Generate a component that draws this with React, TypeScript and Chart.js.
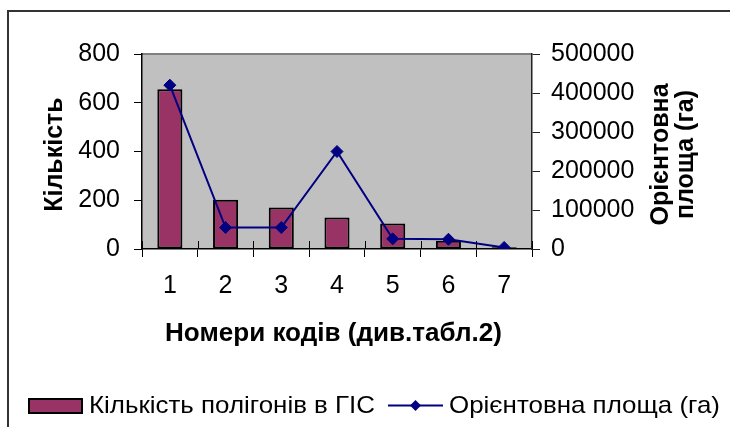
import React, { useEffect, useRef } from "react";
import { Chart, registerables } from "chart.js";

Chart.register(...registerables);

const categories = ["1", "2", "3", "4", "5", "6", "7"];
const polygonCounts = [655, 202, 170, 129, 105, 34, 7];
const approxArea = [420000, 55000, 55000, 250000, 26000, 25000, 4000];
const leftTicks = [0, 200, 400, 600, 800];
const rightTicks = [0, 100000, 200000, 300000, 400000, 500000];

const barLabel = "Кількість полігонів в ГІС";
const lineLabel = "Орієнтовна площа (га)";
const xTitle = "Номери кодів (див.табл.2)";
const yTitle = "Кількість";
const y1TitleLines = ["Орієнтовна", "площа (га)"];

const FONT = "'Liberation Sans', Arial, sans-serif";
const BAR_COLOR = "#993366";
const LINE_COLOR = "#000080";

function fitText(ctx: CanvasRenderingContext2D, text: string, x: number, y: number, width: number) {
  const w = ctx.measureText(text).width;
  const sx = width / w;
  ctx.save();
  ctx.translate(x, y);
  ctx.scale(sx, 1);
  ctx.textAlign = "left";
  ctx.fillText(text, 0, 0);
  ctx.restore();
}

const decorPlugin = {
  id: "decor",
  beforeDraw(chart: any) {
    const { ctx, chartArea } = chart;
    ctx.save();
    ctx.fillStyle = "#ffffff";
    ctx.fillRect(0, 0, chart.width, chart.height);
    // outer frame
    ctx.fillStyle = "#333333";
    ctx.fillRect(7, 10, chart.width, 2);
    ctx.fillRect(7, 10, 2, chart.height);
    // plot area
    ctx.fillStyle = "#C0C0C0";
    ctx.fillRect(chartArea.left, chartArea.top, chartArea.right - chartArea.left, chartArea.bottom - chartArea.top);
    ctx.fillStyle = "#808080";
    ctx.fillRect(chartArea.left, chartArea.top - 1, chartArea.right - chartArea.left, 2);
    ctx.restore();
  },
  beforeDatasetsDraw(chart: any) {
    const { ctx, chartArea } = chart;
    const xs = chart.scales.x;
    ctx.save();
    ctx.strokeStyle = "#000";
    ctx.lineWidth = 1;
    for (let k = 0; k <= categories.length; k++) {
      const px = Math.round(xs.getPixelForValue(k - 0.5)) + 0.5;
      ctx.beginPath();
      ctx.moveTo(px, chartArea.bottom - 8);
      ctx.lineTo(px, chartArea.bottom);
      ctx.stroke();
    }
    ctx.restore();
  },
  afterDraw(chart: any) {
    const { ctx, chartArea } = chart;
    ctx.save();
    ctx.fillStyle = "#000";
    // axis titles
    ctx.font = `bold 25px ${FONT}`;
    ctx.textBaseline = "alphabetic";
    ctx.textAlign = "center";
    const cy = (chartArea.top + chartArea.bottom) / 2 + 3;
    ctx.save();
    ctx.translate(61.5, cy);
    ctx.rotate(-Math.PI / 2);
    ctx.fillText(yTitle, 0, 0);
    ctx.restore();
    y1TitleLines.forEach((line, i) => {
      ctx.save();
      ctx.translate(668 + i * 25, cy);
      ctx.rotate(-Math.PI / 2);
      ctx.fillText(line, 0, 0);
      ctx.restore();
    });
    fitText(ctx, xTitle, 165, 341, 337);

    // legend
    ctx.font = `24px ${FONT}`;
    ctx.textBaseline = "middle";
    ctx.fillStyle = BAR_COLOR;
    ctx.fillRect(28, 398, 55, 16);
    ctx.strokeStyle = "#000";
    ctx.lineWidth = 2;
    ctx.strokeRect(29, 399, 53, 14);
    ctx.fillStyle = "#000";
    fitText(ctx, barLabel, 89, 406, 286);

    ctx.strokeStyle = LINE_COLOR;
    ctx.lineWidth = 2;
    ctx.beginPath();
    ctx.moveTo(388, 405.5);
    ctx.lineTo(443, 405.5);
    ctx.stroke();
    ctx.fillStyle = LINE_COLOR;
    ctx.beginPath();
    ctx.moveTo(415.5, 400);
    ctx.lineTo(421, 405.5);
    ctx.lineTo(415.5, 411);
    ctx.lineTo(410, 405.5);
    ctx.closePath();
    ctx.fill();
    ctx.fillStyle = "#000";
    fitText(ctx, lineLabel, 449, 406, 271);
    ctx.restore();
  },
};

export default function App() {
  const ref = useRef<HTMLCanvasElement | null>(null);

  useEffect(() => {
    if (!ref.current) return;
    const tickFont = { family: FONT, size: 25 };
    const chart = new Chart(ref.current, {
      type: "bar",
      data: {
        labels: categories,
        datasets: [
          {
            type: "bar",
            label: barLabel,
            data: polygonCounts,
            backgroundColor: BAR_COLOR,
            borderColor: "#000",
            borderWidth: 2,
            borderSkipped: false,
            barPercentage: 0.45,
            categoryPercentage: 1,
            yAxisID: "y",
            order: 1,
          } as any,
          {
            type: "line",
            label: lineLabel,
            data: approxArea,
            borderColor: LINE_COLOR,
            borderWidth: 2,
            backgroundColor: LINE_COLOR,
            pointStyle: "rectRot",
            pointRadius: 6,
            pointBorderWidth: 1,
            pointBackgroundColor: LINE_COLOR,
            pointBorderColor: LINE_COLOR,
            tension: 0,
            fill: false,
            yAxisID: "y1",
            order: 0,
          } as any,
        ],
      },
      plugins: [decorPlugin],
      options: {
        animation: false,
        responsive: false,
        maintainAspectRatio: false,
        devicePixelRatio: 1,
        layout: { padding: { top: 54, left: 0, right: 0, bottom: 0 } },
        plugins: {
          legend: { display: false },
          tooltip: { enabled: false },
          title: { display: false },
        },
        scales: {
          x: {
            type: "category",
            offset: true,
            grid: {
              offset: true,
              drawOnChartArea: false,
              drawTicks: true,
              tickLength: 8,
              color: "#000",
              lineWidth: 1,
            },
            border: { display: true, color: "#000", width: 1.5 },
            ticks: { font: tickFont, color: "#000", padding: 14, maxRotation: 0 },
            afterFit: (s: any) => {
              s.height = 178;
            },
          },
          y: {
            type: "linear",
            position: "left",
            min: 0,
            max: 800,
            afterBuildTicks: (s: any) => {
              s.ticks = leftTicks.map((v) => ({ value: v }));
            },
            grid: {
              drawOnChartArea: false,
              drawTicks: true,
              tickLength: 8,
              color: "#000",
              lineWidth: 1,
            },
            border: { display: true, color: "#000", width: 1.5 },
            ticks: { font: tickFont, color: "#000", padding: 14 },
            afterFit: (s: any) => {
              s.width = 142;
            },
          },
          y1: {
            type: "linear",
            position: "right",
            min: 0,
            max: 500000,
            afterBuildTicks: (s: any) => {
              s.ticks = rightTicks.map((v) => ({ value: v }));
            },
            grid: {
              drawOnChartArea: false,
              drawTicks: true,
              tickLength: 8,
              color: "#222",
              lineWidth: 1,
            },
            border: { display: true, color: "#222", width: 1.5 },
            ticks: {
              font: tickFont,
              color: "#000",
              padding: 11,
              callback: (v: any) => String(v),
            },
            afterFit: (s: any) => {
              s.width = 198;
            },
          },
        },
      },
    });
    return () => chart.destroy();
  }, []);

  return (
    <div style={{ position: "absolute", left: 0, top: 0, width: 730, height: 427 }}>
      <canvas ref={ref} width={730} height={427} style={{ display: "block" }} />
    </div>
  );
}
